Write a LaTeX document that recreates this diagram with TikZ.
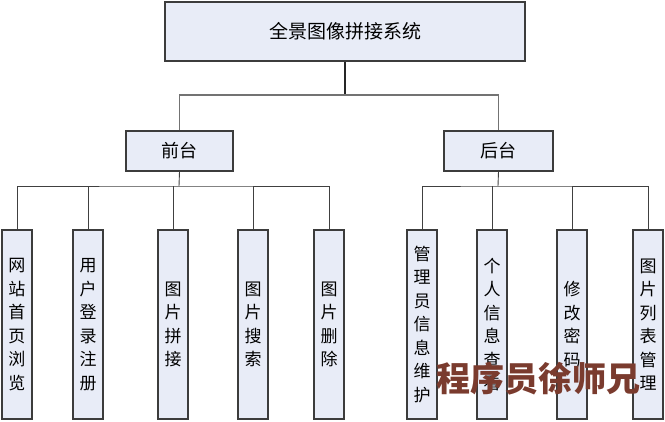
\documentclass[tikz,border=0pt]{standalone}
\usepackage{fontspec}
\setmainfont{Liberation Sans}
\newfontfamily\cjk{Noto Sans CJK SC}
\definecolor{boxfill}{RGB}{232,236,247}
\definecolor{boxline}{RGB}{60,60,60}
\definecolor{wmark}{RGB}{122,59,46}
\begin{document}
\begin{tikzpicture}[x=1pt,y=-1pt,
  box/.style={draw=boxline,line width=1.3pt,fill=boxfill,rectangle,inner sep=0pt,font=\cjk},
  leaf/.style={box,minimum width=30pt,minimum height=189pt,align=center,
    font=\cjk\fontsize{17}{23.5}\selectfont},
  conn/.style={draw=black!75,line width=0.9pt},
  mainconn/.style={draw=black!55,line width=1.6pt}]
\useasboundingbox (0,0) rectangle (665,422);
% top
\node[box,minimum width=360pt,minimum height=59pt,font=\cjk\fontsize{19}{22}\selectfont] (top) at (345,31.5) {全景图像拼接系统};
\node[box,minimum width=107pt,minimum height=40pt,font=\cjk\fontsize{18}{22}\selectfont] (front) at (179.5,151) {前台};
\node[box,minimum width=109pt,minimum height=40pt,font=\cjk\fontsize{18}{22}\selectfont] (back) at (498.5,151) {后台};
% leaves
\node[leaf] (l1) at (17,324.5) {网\\站\\首\\页\\浏\\览};
\node[leaf] (l2) at (88,324.5) {用\\户\\登\\录\\注\\册};
\node[leaf] (l3) at (173,324.5) {图\\片\\拼\\接};
\node[leaf] (l4) at (253,324.5) {图\\片\\搜\\索};
\node[leaf] (l5) at (329,324.5) {图\\片\\删\\除};
\node[leaf] (r1) at (422,324.5) {管\\理\\员\\信\\息\\维\\护};
\node[leaf] (r2) at (492,324.5) {个\\人\\信\\息\\查\\看};
\node[leaf] (r3) at (572,324.5) {修\\改\\密\\码};
\node[leaf] (r4) at (648,324.5) {图\\片\\列\\表\\管\\理};
% junctions
\coordinate (j0) at (345,95);
\coordinate (j1) at (179,186);
\coordinate (j2) at (498,186);
% connectors
\draw[line width=1.8pt,draw=black!85] (top.south) -- (j0);
\draw[mainconn] (front.north) |- (j0) -| (back.north);
\draw[conn] (front.south) -- (j1);
\draw[conn] (l1.north) |- (j1) -| (l5.north);
\draw[conn] (l2.north) -- (l2.north |- j1);
\draw[conn] (l3.north) -- (l3.north |- j1);
\draw[conn] (l4.north) -- (l4.north |- j1);
\draw[conn] (back.south) -- (j2);
\draw[conn] (r1.north) |- (j2) -| (r4.north);
\draw[conn] (r2.north) -- (r2.north |- j2);
\draw[conn] (r3.north) -- (r3.north |- j2);
% watermark
\node[anchor=west,inner sep=0pt,text=wmark,font=\cjk\bfseries\fontsize{34}{36}\selectfont] (wm) at (436,379) {程序员徐师兄};
\end{tikzpicture}
\end{document}
